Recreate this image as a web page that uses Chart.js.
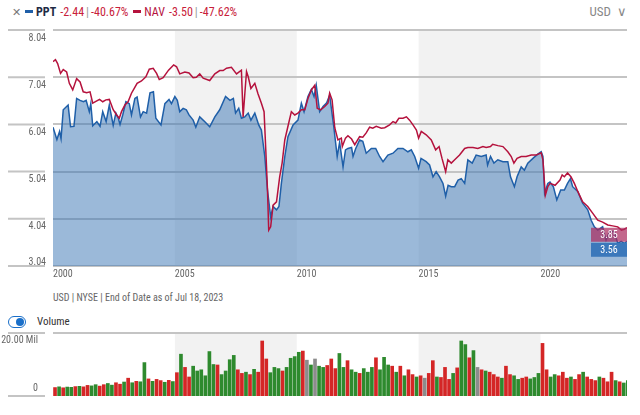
<!DOCTYPE html>
<html>
<head>
<meta charset="utf-8">
<script src="https://cdn.jsdelivr.net/npm/chart.js@4.4.0/dist/chart.umd.min.js"></script>
<style>
  body { margin:0; width:640px; height:415px; background:#fff; position:relative; overflow:hidden;
         font-family:'Roboto Condensed',Roboto,sans-serif; }
  #head { position:absolute; left:12px; top:5px; font-size:12px; color:#333; white-space:nowrap; }
  #head .x { color:#777; margin-right:4px; font-size:11px; }
  #head .dash { display:inline-block; width:8px; height:3px; vertical-align:middle; margin:0 3px 2px 0; }
  #head b { color:#1e2a44; margin-right:4px; }
  #head .v { color:#c8203a; }
  #head .sep { color:#999; margin:0 2px; }
  #cur { position:absolute; right:13px; top:4px; font-size:13px; color:#888; }
  #price { position:absolute; left:0; top:0; }
  #note { position:absolute; left:53px; top:292px; font-size:10px; color:#666; }
  #tog { position:absolute; left:8px; top:316px; width:16px; height:10px; border:1.5px solid #1a6fc9; border-radius:7px; }
  #tog i { position:absolute; right:1px; top:1px; width:8px; height:8px; border-radius:50%; background:#1a6fc9; }
  #volLbl { position:absolute; left:37px; top:315px; font-size:11px; color:#333; }
  #vol { position:absolute; left:0; top:330px; }
</style>
</head>
<body>
<div id="head"><span class="x">&#x2715;</span><span class="dash" style="background:#1f5fa8"></span><b>PPT</b><span class="v">-2.44<span class="sep">|</span>-40.67%</span>
  <span class="dash" style="background:#b5123d;margin-left:2px"></span><b style="color:#b5123d;font-weight:normal">NAV</b><span class="v">-3.50<span class="sep">|</span>-47.62%</span></div>
<div id="cur">USD &nbsp;&#x2228;</div>
<canvas id="price" width="640" height="290"></canvas>
<div id="note">USD | NYSE | End of Date as of Jul 18, 2023</div>
<div id="tog"><i></i></div>
<div id="volLbl">Volume</div>
<canvas id="vol" width="640" height="85"></canvas>
<script>
// price (decimal year, value)
const pptDates = [2000.00,2000.16,2000.27,2000.33,2000.42,2000.62,2000.72,2000.86,2000.97,2001.11,2001.25,2001.36,2001.49,2001.55,2001.63,2001.80,2001.93,
  2002.04,2002.18,2002.31,2002.47,2002.58,2002.68,2002.75,2002.86,2002.99,2003.13,2003.22,2003.36,2003.45,2003.59,2003.70,2003.84,2003.98,2004.12,2004.22,
  2004.43,2004.59,2004.76,2004.86,2005.00,2005.10,2005.20,2005.34,2005.47,2005.58,2005.75,2005.86,2006.02,2006.22,2006.43,2006.64,2006.84,2007.08,2007.26,
  2007.40,2007.49,2007.62,2007.73,2007.87,2008.01,2008.12,2008.28,2008.44,2008.55,2008.69,2008.80,2008.93,2009.03,2009.17,2009.27,2009.37,2009.51,2009.64,
  2009.85,2010.05,2010.19,2010.30,2010.46,2010.60,2010.71,2010.80,2010.94,2011.08,2011.22,2011.35,2011.52,2011.66,2011.76,2011.90,2012.00,2012.10,2012.25,
  2012.31,2012.42,2012.58,2012.71,2012.85,2013.06,2013.24,2013.40,2013.54,2013.74,2013.95,2014.15,2014.36,2014.56,2014.70,2014.84,2015.00,2015.10,2015.31,
  2015.45,2015.59,2015.72,2015.86,2016.00,2016.11,2016.21,2016.34,2016.48,2016.62,2016.75,2016.89,2017.02,2017.20,2017.36,2017.57,2017.77,2017.83,2017.95,
  2018.09,2018.25,2018.46,2018.66,2018.77,2018.93,2019.04,2019.21,2019.34,2019.48,2019.69,2019.89,2020.03,2020.10,2020.17,2020.30,2020.39,2020.53,2020.67,
  2020.83,2020.98,2021.11,2021.23,2021.32,2021.53,2021.73,2021.94,2022.08,2022.21,2022.35,2022.55,2022.69,2022.83,2023.03,2023.17,2023.31,2023.44,2023.55];
const pptValues = [5.98,5.72,5.89,5.74,6.35,6.45,5.99,6.00,6.59,6.55,6.52,6.55,6.31,6.48,6.01,6.10,6.00,
  6.31,6.10,6.45,6.02,6.28,6.17,6.04,6.24,6.52,6.48,6.24,6.59,6.62,6.20,6.31,6.28,6.71,6.73,6.17,
  6.03,6.48,6.57,6.48,6.63,6.55,6.31,6.38,6.35,6.24,6.13,5.98,6.20,6.10,5.99,6.20,6.35,6.63,6.55,
  6.59,6.28,6.38,6.17,6.20,6.28,6.13,6.28,6.03,5.92,5.36,4.65,4.08,4.30,4.23,4.30,4.79,5.36,5.78,
  6.03,6.13,6.49,6.31,6.63,6.78,6.63,6.87,6.31,6.42,6.49,6.66,5.99,5.36,5.66,5.14,5.50,5.53,5.55,
  5.36,5.53,5.71,5.68,5.43,5.53,5.53,5.36,5.25,5.39,5.43,5.53,5.53,5.46,5.50,5.36,5.11,5.32,5.25,
  5.18,4.93,5.04,4.93,4.79,4.52,4.75,4.72,4.72,4.86,4.89,4.79,5.29,5.22,5.39,5.36,5.39,5.18,5.36,
  5.22,5.29,5.25,5.25,4.93,4.72,4.93,5.14,5.07,5.22,5.32,5.41,5.46,5.36,4.58,4.79,4.82,4.72,4.44,
  4.65,4.65,4.79,4.89,4.72,4.62,4.37,4.23,4.01,3.87,3.80,3.87,3.59,3.77,3.77,3.52,3.56,3.52,3.56];

const navDates = [2000.00,2000.10,2000.19,2000.31,2000.42,2000.56,2000.67,2000.81,2000.97,2001.11,2001.24,2001.38,2001.52,2001.63,2001.91,2002.04,2002.17,
  2002.31,2002.47,2002.61,2002.72,2002.81,2002.95,2003.08,2003.22,2003.31,2003.45,2003.63,2003.81,2003.95,2004.11,2004.25,2004.36,2004.52,2004.74,2004.95,
  2005.07,2005.20,2005.41,2005.58,2005.75,2005.88,2006.02,2006.16,2006.43,2006.64,2006.84,2006.98,2007.12,2007.32,2007.53,2007.73,2007.80,2007.87,2007.94,
  2008.01,2008.12,2008.28,2008.41,2008.55,2008.66,2008.73,2008.80,2008.85,2008.93,2009.03,2009.17,2009.30,2009.40,2009.51,2009.64,2009.78,2009.92,2010.05,
  2010.19,2010.33,2010.46,2010.60,2010.74,2010.84,2010.98,2011.15,2011.28,2011.35,2011.45,2011.56,2011.69,2011.83,2011.87,2012.00,2012.10,2012.25,2012.38,
  2012.58,2012.71,2012.85,2012.99,2013.12,2013.26,2013.47,2013.61,2013.81,2013.95,2014.06,2014.19,2014.36,2014.50,2014.63,2014.77,2014.91,2015.00,2015.11,
  2015.31,2015.52,2015.70,2015.84,2015.96,2016.11,2016.20,2016.34,2016.48,2016.68,2016.89,2017.02,2017.23,2017.43,2017.64,2017.77,2017.95,2018.04,2018.25,
  2018.46,2018.66,2018.80,2018.91,2019.04,2019.21,2019.41,2019.62,2019.82,2020.03,2020.10,2020.20,2020.30,2020.39,2020.60,2020.80,2020.89,2020.98,2021.11,
  2021.25,2021.39,2021.53,2021.73,2021.94,2022.14,2022.35,2022.55,2022.76,2022.96,2023.17,2023.32,2023.44,2023.55];
const navValues = [7.37,7.41,7.33,7.12,7.20,7.15,6.91,6.77,7.01,6.94,6.73,6.71,6.73,6.49,6.57,6.52,6.56,
  6.57,6.35,6.24,6.17,6.31,6.45,6.52,6.70,6.78,6.91,6.96,7.05,7.21,7.23,7.12,6.99,7.03,7.19,7.30,
  7.26,7.11,7.15,7.13,7.03,7.04,7.11,7.02,6.97,7.11,7.18,7.18,7.23,7.25,7.11,7.19,6.20,6.69,7.16,
  7.05,6.80,6.91,6.69,6.49,6.31,5.50,4.65,3.80,3.87,4.33,4.40,4.93,5.22,5.71,6.00,6.31,6.24,6.28,
  6.35,6.35,6.59,6.77,6.87,6.38,6.35,6.42,6.49,6.70,6.56,5.97,5.71,5.75,5.57,5.75,5.80,5.73,5.61,
  5.78,5.77,5.86,5.98,5.96,6.00,5.96,5.97,6.03,6.10,6.07,6.17,6.17,6.20,6.13,6.03,5.92,5.75,5.89,
  5.82,5.71,5.50,5.57,5.32,5.04,5.29,5.22,5.29,5.39,5.53,5.55,5.55,5.53,5.57,5.55,5.57,5.62,5.59,
  5.57,5.46,5.36,5.22,5.32,5.36,5.36,5.39,5.39,5.44,5.29,4.54,4.72,4.79,4.75,4.86,4.97,4.93,5.01,
  4.93,4.79,4.62,4.40,4.30,4.16,4.01,3.97,3.91,3.89,3.87,3.80,3.82,3.85];

const yTicks = [3.04, 4.04, 5.04, 6.04, 7.04, 8.04];
const xTicks = [2000, 2005, 2010, 2015, 2020];
const bands = [[2005, 2010], [2015, 2020]];

// volume in millions, two-month bars, Jan 2000 .. Jul 2023
const volYears = [2000,2001,2002,2003,2004,2005,2006,2007,2008,2009,2010,2011,2012,2013,2014,2015,2016,2017,2018,2019,2020,2021,2022,2023];
const volMonths = [1, 3, 5, 7, 9, 11];
const volume = [
  0.6,0.9,0.5,0.8,0.7,1.0,  1.1,0.9,1.5,1.3,1.8,1.2,  1.8,2.3,1.6,2.6,2.0,2.9,  4.5,2.6,3.2,3.0,11.0,4.2,
  3.2,4.0,3.5,2.8,3.6,3.1,  6.8,14.5,9.0,5.0,9.5,7.5,  8.0,5.5,15.6,10.2,10.0,6.0,  7.5,12.2,14.0,8.0,6.5,7.0,
  6.0,8.2,7.0,20.0,12.5,6.8,  9.0,8.5,7.5,9.0,12.8,13.5,  15.3,15.8,12.0,10.0,12.5,9.5,  9.0,9.8,12.5,8.5,14.8,9.0,
  11.8,8.0,7.0,6.5,8.5,7.0,  9.0,13.0,8.0,13.2,10.0,9.5,  7.0,9.5,5.5,8.0,6.0,5.0,  5.5,4.5,6.5,11.8,5.0,4.8,
  9.0,4.0,6.5,8.8,20.0,18.5,  13.0,16.0,9.0,8.0,7.5,7.0,  6.0,5.0,4.5,9.5,6.0,5.5,  4.0,4.5,5.0,4.2,4.8,6.5,
  19.0,8.0,5.0,6.0,5.5,7.0,  4.5,5.0,4.0,6.0,7.0,5.0,  4.0,3.5,5.0,4.5,3.0,7.0,  3.5,3.0,2.5,3.5];
const volMove = [
  'r','g','r','g','g','r', 'g','r','r','g','g','r', 'r','g','g','r','r','g', 'r','g','r','g','g','r',
  'g','r','r','g','r','g', 'r','g','r','r','g','g', 'g','g','g','g','r','g', 'g','g','g','r','r','g',
  'r','g','r','r','r','g', 'g','g','r','g','g','g', 'g','r','n','g','n','g', 'g','r','r','r','g','g',
  'r','g','g','r','g','g', 'g','r','g','g','g','r', 'g','r','g','r','r','g', 'r','n','r','r','g','r',
  'r','r','g','r','g','g', 'r','g','n','r','g','r', 'r','r','g','r','r','g', 'g','r','r','g','g','g',
  'r','r','g','g','r','r', 'r','g','r','r','g','r', 'r','r','g','r','r','r', 'g','r','g','g'];
const moveColors = { g: '#2e8a2e', r: '#d42626', n: '#8c8c8c' };

const volDates = [];
volYears.forEach(y => volMonths.forEach(m => { if (volDates.length < volume.length) volDates.push(y + m / 12); }));

const FONT = "'Roboto Condensed',Roboto,sans-serif";
Chart.defaults.font.family = FONT;
Chart.defaults.font.size = 10;
Chart.defaults.color = '#666';
Chart.defaults.animation = false;

// keep tick labels from pushing the plot area around
const fixY = s => { s.width = 53; s.paddingTop = 0; s.paddingBottom = 0; };

const bandPlugin = {
  id: 'bands',
  beforeDraw(c) {
    const x = c.scales.x, a = c.chartArea, ctx = c.ctx;
    ctx.save();
    ctx.fillStyle = '#f2f2f2';
    bands.forEach(([s, e]) => {
      const x0 = x.getPixelForValue(s), x1 = x.getPixelForValue(e);
      ctx.fillRect(x0, a.top, x1 - x0, a.bottom - a.top);
    });
    ctx.restore();
  }
};

// short grey rules to the left of the value labels
function sideRules(values) {
  return {
    id: 'sideRules',
    afterDraw(c) {
      const ctx = c.ctx;
      ctx.save();
      ctx.strokeStyle = '#c4c4c4';
      ctx.lineWidth = 2;
      values(c).forEach(p => { ctx.beginPath(); ctx.moveTo(8, p); ctx.lineTo(45, p); ctx.stroke(); });
      ctx.restore();
    }
  };
}

const lastTags = {
  id: 'lastTags',
  afterDatasetsDraw(c) {
    const ctx = c.ctx, y = c.scales.y, right = c.chartArea.right;
    const navY = y.getPixelForValue(navValues[navValues.length - 1]);
    const pptY = Math.max(y.getPixelForValue(pptValues[pptValues.length - 1]), navY + 15);
    const tag = (top, bg, txt) => {
      ctx.fillStyle = bg;
      ctx.fillRect(right - 36, top, 36, 14);
      ctx.fillStyle = '#fff';
      ctx.font = '10px ' + FONT;
      ctx.textAlign = 'center';
      ctx.textBaseline = 'middle';
      ctx.fillText(txt, right - 18, top + 7.5);
    };
    ctx.save();
    tag(navY, 'rgba(170,45,95,0.72)', navValues[navValues.length - 1].toFixed(2));
    tag(pptY, '#3b78bb', pptValues[pptValues.length - 1].toFixed(2));
    ctx.restore();
  }
};

new Chart(document.getElementById('price'), {
  type: 'line',
  data: {
    datasets: [
      { label: 'NAV', data: navDates.map((d, i) => ({ x: d, y: navValues[i] })),
        borderColor: '#b5123d', borderWidth: 1.5, pointRadius: 0, fill: false },
      { label: 'PPT', data: pptDates.map((d, i) => ({ x: d, y: pptValues[i] })),
        borderColor: '#1f5fa8', borderWidth: 1.5, pointRadius: 0,
        fill: 'start', backgroundColor: 'rgba(55,115,180,0.5)' }
    ]
  },
  options: {
    responsive: false,
    layout: { autoPadding: false, padding: { top: 30, right: 13, left: 0, bottom: 0 } },
    plugins: { legend: { display: false }, tooltip: { enabled: false } },
    scales: {
      x: {
        type: 'linear', min: 2000, max: 2023.55,
        grid: { display: false, drawTicks: false }, border: { display: false },
        afterBuildTicks: s => { s.ticks = xTicks.map(v => ({ value: v })); },
        afterFit: s => { s.height = 24; s.paddingLeft = 0; s.paddingRight = 0; },
        ticks: { align: 'start', padding: 2, callback: v => String(v) }
      },
      y: {
        min: 3.04, max: 8.04,
        afterBuildTicks: s => { s.ticks = yTicks.map(v => ({ value: v })); },
        afterFit: fixY,
        border: { display: false },
        grid: { color: '#c4c4c4', lineWidth: 2, drawTicks: false },
        // labels sit under their rule; the lowest one sits above it
        ticks: { padding: 7, labelOffset: 8,
                 callback: v => v === yTicks[0] ? [v.toFixed(2), '', ''] : Number(v).toFixed(2) }
      }
    }
  },
  plugins: [bandPlugin, sideRules(c => c.scales.y.ticks.map(t => c.scales.y.getPixelForValue(t.value))), lastTags]
});

new Chart(document.getElementById('vol'), {
  type: 'bar',
  data: {
    datasets: [{
      data: volDates.map((d, i) => ({ x: d, y: volume[i] })),
      backgroundColor: volMove.map(m => moveColors[m]),
      base: -2.92, barThickness: 3
    }]
  },
  options: {
    responsive: false,
    layout: { autoPadding: false, padding: { top: 3, right: 13, left: 0, bottom: 19 } },
    plugins: { legend: { display: false }, tooltip: { enabled: false } },
    scales: {
      x: { type: 'linear', min: 2000, max: 2023.55, offset: false, display: false },
      y: {
        min: -2.92, max: 23.33,
        afterBuildTicks: s => { s.ticks = [0, 20].map(v => ({ value: v })); },
        afterFit: fixY,
        border: { display: false },
        grid: { display: false },
        ticks: { padding: 7, callback: v => v === 0 ? '0' : v.toFixed(2) + ' Mil' }
      }
    }
  },
  plugins: [bandPlugin,
    sideRules(c => [c.chartArea.top, c.chartArea.bottom]),
    { id: 'topRule', afterDraw(c) {
        const ctx = c.ctx, a = c.chartArea;
        ctx.save(); ctx.strokeStyle = '#c4c4c4'; ctx.lineWidth = 2;
        ctx.beginPath(); ctx.moveTo(a.left, a.top); ctx.lineTo(a.right, a.top); ctx.stroke();
        ctx.restore();
    } }]
});
</script>
</body>
</html>
